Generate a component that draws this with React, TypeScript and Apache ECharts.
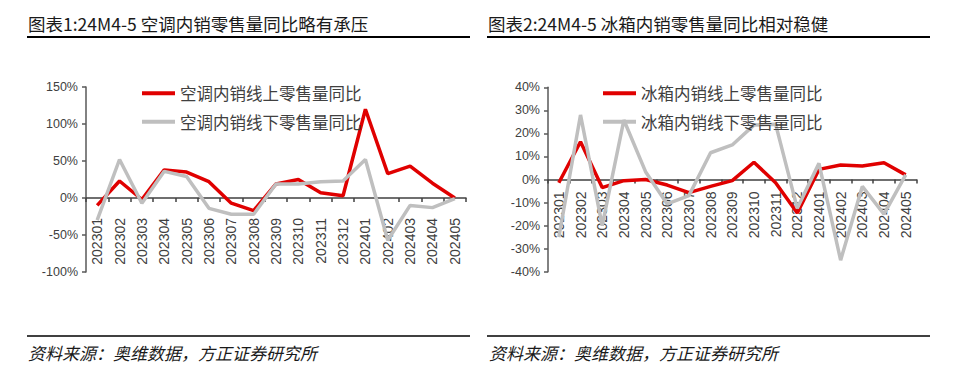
import React, { useEffect, useRef } from "react";
import * as echarts from "echarts";

const months = ["202301","202302","202303","202304","202305","202306","202307","202308","202309","202310","202311","202312","202401","202402","202403","202404","202405"];
const acOnline = [-10, 23, -2, 38, 35, 22, -7, -17, 19, 25, 7, 3, 120, 33, 43, 20, 0];
const acOffline = [-30, 52, -7, 36, 29, -14, -22, -22, 19, 19, 22, 23, 52, -57, -10, -13, -1];
const fridgeOnline = [-1.4, 16.4, -3.5, -0.5, 0, -2.4, -5.7, -3, -0.5, 7.5, -1.4, -14.5, 4.4, 6.3, 5.9, 7.3, 2];
const fridgeOffline = [-25, 28, -20, 25.8, 3.4, -10.6, -7, 11.6, 15, 23.6, 24, -12.5, 7, -35, -3, -15, 2];

const acNames = ["空调内销线上零售量同比", "空调内销线下零售量同比"];
const frNames = ["冰箱内销线上零售量同比", "冰箱内销线下零售量同比"];
const titles = ["图表1:24M4-5 空调内销零售量同比略有承压", "图表2:24M4-5 冰箱内销零售量同比相对稳健"];
const sourceText = "资料来源：奥维数据，方正证券研究所";

const RED = "#e00000";
const GRAY = "#bfbfbf";
const FONT = "'Liberation Sans', Arial, sans-serif";
const CJK = "'Noto Sans CJK SC', sans-serif";

// grid geometry
const G1 = { left: 86, right: 494, top: 87, bottom: 101 };
const G2 = { left: 548, right: 43.5, top: 87.3, bottom: 101.3 };
const H = 373;

export default function App() {
  const ref = useRef<HTMLDivElement>(null);
  useEffect(() => {
    if (!ref.current) return;
    const chart = echarts.init(ref.current, null, { renderer: "svg" });
    // distance from grid bottom to the zero line, from the y-axis scale
    const zeroOffset = (g: typeof G1, min: number, max: number) =>
      ((H - g.top - g.bottom) * (0 - min)) / (max - min);
    const xAxisBase = (gridIndex: number, margin: number, offset: number) => ({
      type: "category",
      gridIndex,
      data: months,
      boundaryGap: true,
      offset: -offset,
      axisLine: { onZero: false, lineStyle: { color: "#404040", width: 1.5 } },
      axisTick: { show: true, inside: false, length: 4, lineStyle: { color: "#404040", width: 1.5 } },
      axisLabel: { rotate: 90, margin, fontSize: 14, color: "#404040", fontFamily: FONT, interval: 0 },
      splitLine: { show: false },
    });
    const yAxisBase = (gridIndex: number, min: number, max: number, interval: number) => ({
      type: "value",
      gridIndex,
      min,
      max,
      interval,
      axisLine: { show: true, lineStyle: { color: "#595959", width: 1.5 } },
      axisTick: { show: true, length: 4, lineStyle: { color: "#595959", width: 1.5 } },
      axisLabel: { fontSize: 12.5, color: "#404040", fontFamily: FONT, margin: 8, formatter: (v: number) => `${v}%` },
      splitLine: { show: false },
    });
    const lineSeries = (name: string, data: number[], color: string, idx: number) => ({
      name,
      type: "line",
      xAxisIndex: idx,
      yAxisIndex: idx,
      data,
      symbol: "none",
      lineStyle: { color, width: 3.5 },
      itemStyle: { color },
    });
    const legendBase = (left: number, names: string[]) => ({
      orient: "vertical",
      left,
      top: 80,
      itemWidth: 33,
      itemHeight: 4,
      itemGap: 12,
      icon: "rect",
      data: names,
      textStyle: { fontSize: 16.5, color: "#404040", fontFamily: CJK },
    });
    const lineEl = (x1: number, y1: number, x2: number, y2: number, w: number) => ({
      type: "line",
      shape: { x1, y1, x2, y2 },
      style: { stroke: "#000", lineWidth: w },
      silent: true,
    });
    const textEl = (x: number, y: number, text: string, size: number, italic = false) => ({
      type: "text",
      x,
      y,
      style: {
        text,
        fontSize: size,
        fontFamily: CJK,
        fontStyle: italic ? "italic" : "normal",
        fill: "#1a1a1a",
        verticalAlign: "middle",
      },
      silent: true,
    });
    chart.setOption({
      animation: false,
      backgroundColor: "#fff",
      grid: [
        { ...G1, containLabel: false },
        { ...G2, containLabel: false },
      ],
      xAxis: [
        xAxisBase(0, 20, zeroOffset(G1, -100, 150)),
        xAxisBase(1, 12, zeroOffset(G2, -40, 40)),
      ],
      yAxis: [yAxisBase(0, -100, 150, 50), yAxisBase(1, -40, 40, 10)],
      legend: [legendBase(137, acNames), legendBase(598, frNames)],
      series: [
        lineSeries(acNames[0], acOnline, RED, 0),
        lineSeries(acNames[1], acOffline, GRAY, 0),
        lineSeries(frNames[0], fridgeOnline, RED, 1),
        lineSeries(frNames[1], fridgeOffline, GRAY, 1),
      ],
      graphic: [
        textEl(28, 23, titles[0], 17.5),
        textEl(488, 23, titles[1], 17.5),
        lineEl(27, 37, 470, 37, 2),
        lineEl(487, 37, 930, 37, 2),
        lineEl(27, 336, 470, 336, 1.5),
        lineEl(487, 336, 930, 336, 1.5),
        textEl(28, 352, sourceText, 17, true),
        textEl(489, 352, sourceText, 17, true),
      ],
    });
    return () => chart.dispose();
  }, []);
  return (
    <div
      ref={ref}
      style={{ position: "fixed", left: 0, top: 0, width: 960, height: 373, background: "#fff" }}
    />
  );
}
